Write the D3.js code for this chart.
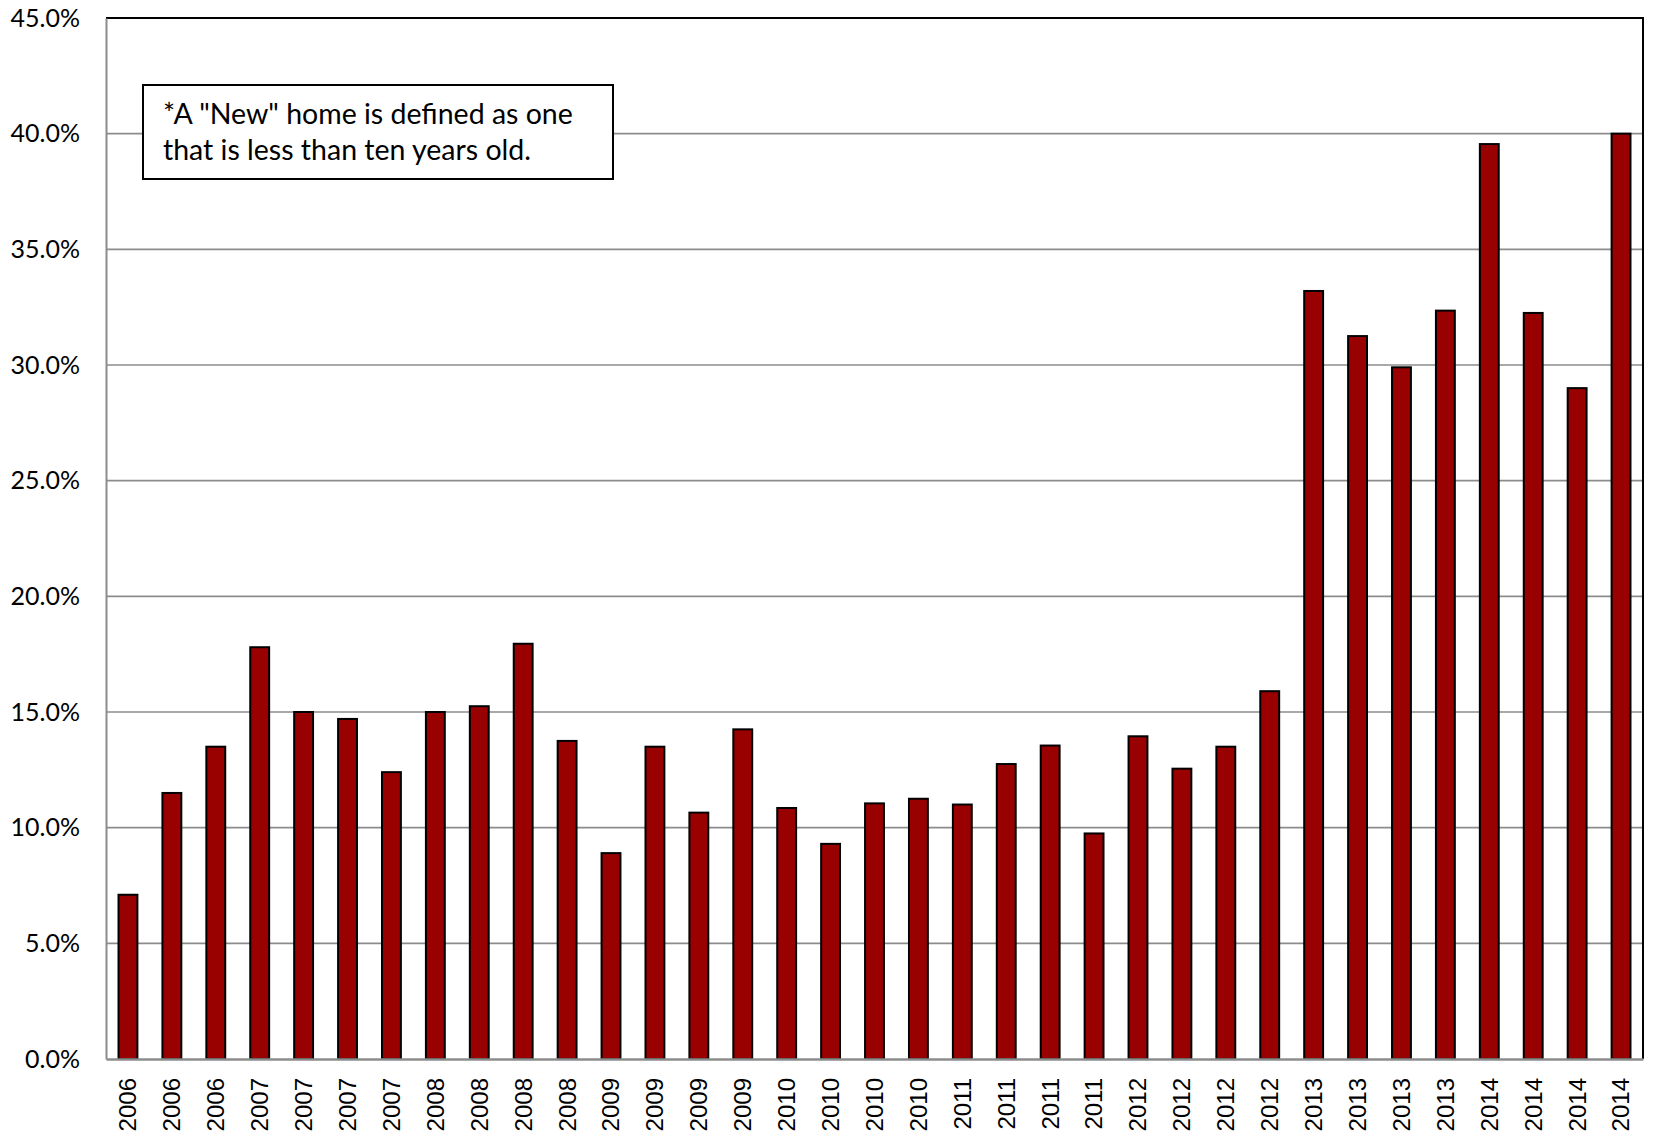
<!DOCTYPE html>
<html>
<head>
<meta charset="utf-8">
<script src="https://cdn.jsdelivr.net/npm/d3@7"></script>
<style>
  html, body { margin: 0; padding: 0; background: #fff; }
  svg { display: block; }
</style>
</head>
<body>
<svg id="chart" width="1665" height="1146"></svg>
<script>
// Share of homes sold that were "new", by quarter
const categories = [
  "2006","2006","2006",
  "2007","2007","2007","2007",
  "2008","2008","2008","2008",
  "2009","2009","2009","2009",
  "2010","2010","2010","2010",
  "2011","2011","2011","2011",
  "2012","2012","2012","2012",
  "2013","2013","2013","2013",
  "2014","2014","2014","2014"
];
const newShare = [
  7.1, 11.5, 13.5,
  17.8, 15.0, 14.7, 12.4,
  15.0, 15.25, 17.95, 13.75,
  8.9, 13.5, 10.65, 14.25,
  10.85, 9.3, 11.05, 11.25,
  11.0, 12.75, 13.55, 9.75,
  13.95, 12.55, 13.5, 15.9,
  33.2, 31.25, 29.9, 32.35,
  39.55, 32.25, 29.0, 40.0
];
const yTicks = [0, 5, 10, 15, 20, 25, 30, 35, 40, 45];
const noteLines = [
  "*A \"New\" home is defined as one",
  "that is less than ten years old."
];

const svg = d3.select("#chart");
const plot = { left: 106, right: 1643, top: 18, bottom: 1059 };

const x = d3.scaleBand()
  .domain(d3.range(categories.length))
  .range([plot.left, plot.right])
  .paddingInner(0.57)
  .paddingOuter(0.285);

const y = d3.scaleLinear()
  .domain([0, 45])
  .range([plot.bottom, plot.top]);

// horizontal gridlines
svg.append("g")
  .selectAll("line")
  .data(yTicks.filter(t => t > 0 && t < 45))
  .join("line")
  .attr("x1", plot.left).attr("x2", plot.right)
  .attr("y1", d => y(d)).attr("y2", d => y(d))
  .attr("stroke", "#8c8c8c")
  .attr("stroke-width", 1.6);

// top and right frame
svg.append("path")
  .attr("d", `M${plot.left},${plot.top}H${plot.right}V${plot.bottom}`)
  .attr("fill", "none")
  .attr("stroke", "#000")
  .attr("stroke-width", 2);

// bars
svg.append("g")
  .selectAll("rect")
  .data(newShare)
  .join("rect")
  .attr("x", (d, i) => x(i))
  .attr("width", x.bandwidth())
  .attr("y", d => y(d))
  .attr("height", d => y(0) - y(d))
  .attr("fill", "#990000")
  .attr("stroke", "#000")
  .attr("stroke-width", 2);

// y axis
const yAxis = svg.append("g")
  .attr("transform", `translate(${plot.left},0)`)
  .call(d3.axisLeft(y).tickValues(yTicks).tickSize(0).tickPadding(26)
    .tickFormat(d => d.toFixed(1) + "%"));
yAxis.select(".domain").attr("stroke", "#8c8c8c").attr("stroke-width", 2);
yAxis.selectAll("text")
  .attr("font-family", "Lato, 'Open Sans', sans-serif")
  .attr("font-size", 25)
  .attr("fill", "#000");

// x axis
const xAxis = svg.append("g")
  .attr("transform", `translate(0,${plot.bottom})`)
  .call(d3.axisBottom(x).tickSize(0).tickFormat(i => categories[i]));
xAxis.select(".domain").attr("stroke", "#8c8c8c").attr("stroke-width", 2.4);
xAxis.selectAll("text")
  .attr("font-family", "'Liberation Sans', Arial, sans-serif")
  .attr("font-size", 24)
  .attr("fill", "#000")
  .attr("text-anchor", "end")
  .attr("dy", "0.35em")
  .attr("transform", "translate(0,19) rotate(-90)")
  .attr("x", 0)
  .attr("y", 0);

// note box
const note = svg.append("g");
note.append("rect")
  .attr("x", 143).attr("y", 85)
  .attr("width", 470).attr("height", 94)
  .attr("fill", "#fff")
  .attr("stroke", "#000")
  .attr("stroke-width", 2);
note.selectAll("text")
  .data(noteLines)
  .join("text")
  .attr("x", 163)
  .attr("y", (d, i) => 124 + i * 36)
  .attr("font-family", "Lato, 'Open Sans', sans-serif")
  .attr("font-size", 28.5)
  .attr("fill", "#000")
  .text(d => d);
</script>
</body>
</html>
